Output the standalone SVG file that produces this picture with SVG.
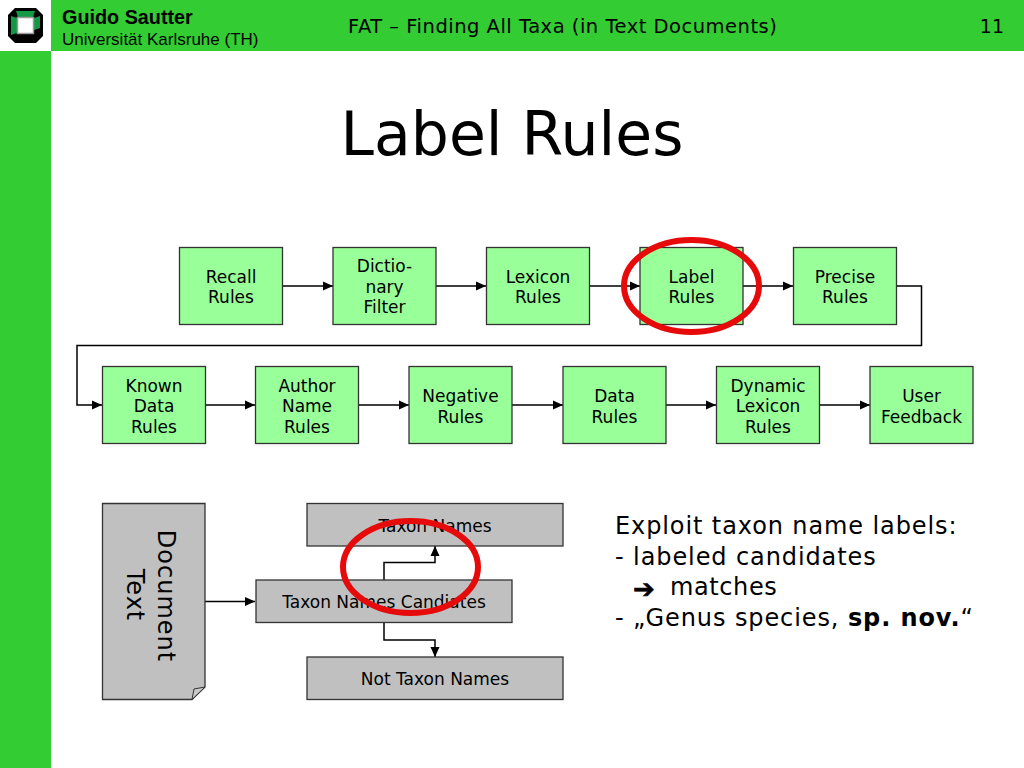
<svg xmlns="http://www.w3.org/2000/svg" width="1024" height="768" viewBox="0 0 1024 768">
<defs>
<style>
.t{font-family:"DejaVu Sans",Verdana,sans-serif;fill:#000}
.n{font-size:17px;text-anchor:middle}
.g rect{fill:#99ff99;stroke:#333;stroke-width:1.3}
.k rect,.k path.b{fill:#c0c0c0;stroke:#333;stroke-width:1.3}
.c{fill:none;stroke:#000;stroke-width:1.5;marker-end:url(#a)}
.b2{font-size:24px;letter-spacing:.9px}
.e{fill:none;stroke:#e60a0a;stroke-width:6}
</style>
<marker id="a" markerUnits="userSpaceOnUse" markerWidth="11" markerHeight="10" refX="10" refY="5" orient="auto"><path d="M0 .5L10 5L0 9.500z" fill="#000"/></marker>
</defs>
<rect width="1024" height="768" fill="#fff"/>
<g id="header">
<rect x="51" y="0" width="973" height="51" fill="#33cc33"/>
<rect x="0" y="51" width="51" height="717" fill="#33cc33"/>
<path d="M15 8H36L43 15V36L36 43H15L8 36V15z" fill="#000"/>
<path d="M16 11H35L33 17H18z M11 16L17 18V33L11 35z M40 16L34 18V30L40 28z" fill="#119944"/>
<rect x="17.500" y="17.500" width="16" height="16" fill="#fff" stroke="#999" stroke-width="1.5"/>
<text x="62" y="24" font-family="'Liberation Sans',Arial,sans-serif" font-weight="bold" font-size="19.800">Guido Sautter</text>
<text x="62" y="45" font-family="'Liberation Sans',Arial,sans-serif" font-size="17">Universität Karlsruhe (TH)</text>
<text class="t" x="348" y="33" font-size="19.500" letter-spacing=".5">FAT – Finding All Taxa (in Text Documents)</text>
<text class="t" x="1004" y="33" font-size="19" text-anchor="end">11</text>
</g>
<text id="title" class="t" x="512" y="155" font-size="60" text-anchor="middle">Label Rules</text>
<g id="connectors">
<path class="c" d="M282 286H333"/>
<path class="c" d="M436 286H486"/>
<path class="c" d="M590 286H640"/>
<path class="c" d="M743 286H793"/>
<path class="c" d="M896 286H921.500V345.500H77V405H102"/>
<path class="c" d="M205 405H255"/>
<path class="c" d="M359 405H409"/>
<path class="c" d="M512 405H563"/>
<path class="c" d="M666 405H716"/>
<path class="c" d="M820 405H870"/>
<path class="c" d="M205 601.500H255"/>
<path class="c" d="M384 580V562.500H435V546"/>
<path class="c" d="M384 623V640H435V657"/>
</g>
<g id="recall" class="g"><rect x="179.500" y="247.500" width="103" height="77"/><text class="t n" x="231" y="282.500">Recall</text><text class="t n" x="231" y="302.500">Rules</text></g>
<g id="dictionary" class="g"><rect x="333" y="247.500" width="103" height="77"/><text class="t n" x="384.500" y="271.500">Dictio-</text><text class="t n" x="384.500" y="292.500">nary</text><text class="t n" x="384.500" y="312.500">Filter</text></g>
<g id="lexicon" class="g"><rect x="486.500" y="247.500" width="103" height="77"/><text class="t n" x="538" y="282.500">Lexicon</text><text class="t n" x="538" y="302.500">Rules</text></g>
<g id="label" class="g"><rect x="640" y="247.500" width="103" height="77"/><text class="t n" x="691.500" y="282.500">Label</text><text class="t n" x="691.500" y="302.500">Rules</text></g>
<g id="precise" class="g"><rect x="793.500" y="247.500" width="103" height="77"/><text class="t n" x="845" y="282.500">Precise</text><text class="t n" x="845" y="302.500">Rules</text></g>
<g id="known" class="g"><rect x="102.500" y="366.500" width="103" height="77"/><text class="t n" x="154" y="391.500">Known</text><text class="t n" x="154" y="411.500">Data</text><text class="t n" x="154" y="432.500">Rules</text></g>
<g id="author" class="g"><rect x="255.500" y="366.500" width="103" height="77"/><text class="t n" x="307" y="391.500">Author</text><text class="t n" x="307" y="411.500">Name</text><text class="t n" x="307" y="432.500">Rules</text></g>
<g id="negative" class="g"><rect x="409" y="366.500" width="103" height="77"/><text class="t n" x="460.500" y="401.500">Negative</text><text class="t n" x="460.500" y="422.500">Rules</text></g>
<g id="data" class="g"><rect x="563" y="366.500" width="103" height="77"/><text class="t n" x="614.500" y="401.500">Data</text><text class="t n" x="614.500" y="422.500">Rules</text></g>
<g id="dynamic" class="g"><rect x="716.500" y="366.500" width="103" height="77"/><text class="t n" x="768" y="391.500">Dynamic</text><text class="t n" x="768" y="411.500">Lexicon</text><text class="t n" x="768" y="432.500">Rules</text></g>
<g id="feedback" class="g"><rect x="870" y="366.500" width="103" height="77"/><text class="t n" x="921.500" y="401.500">User</text><text class="t n" x="921.500" y="422.500">Feedback</text></g>
<g id="document" class="k"><path class="b" d="M102.500 503.500H205V687L192 699.500H102.500z"/><path d="M205 687L192 699.500L194 689z" fill="#c8c8c8" stroke="#333" stroke-width="1"/>
<text class="t" font-size="24" letter-spacing="1" text-anchor="middle" transform="translate(158 596) rotate(90)">Document</text>
<text class="t" font-size="24" letter-spacing="1" text-anchor="middle" transform="translate(127 595) rotate(90)">Text</text></g>
<g id="taxon" class="k"><rect x="307" y="503.500" width="256" height="42.500"/><text class="t n" x="435" y="531.500">Taxon Names</text></g>
<g id="candidates" class="k"><rect x="256" y="580" width="256" height="42.500"/><text class="t n" x="384" y="607.500">Taxon Names Candiates</text></g>
<g id="nottaxon" class="k"><rect x="307" y="657" width="256" height="42.500"/><text class="t n" x="435" y="684.500">Not Taxon Names</text></g>
<ellipse id="ring1" class="e" cx="691.500" cy="286" rx="67.500" ry="46"/>
<ellipse id="ring2" class="e" cx="410.500" cy="567" rx="67.500" ry="46"/>
<g id="notes" class="t b2">
<text x="615" y="534">Exploit taxon name labels:</text>
<text x="615" y="565">- labeled candidates</text>
<text x="633" y="597.500" font-weight="bold" font-size="26" letter-spacing="0" stroke="#000" stroke-width=".6">➔</text><text x="670" y="595" letter-spacing=".6">matches</text>
<text x="615" y="626">- „Genus species, <tspan font-weight="bold">sp. nov.</tspan>“</text>
</g>
</svg>
